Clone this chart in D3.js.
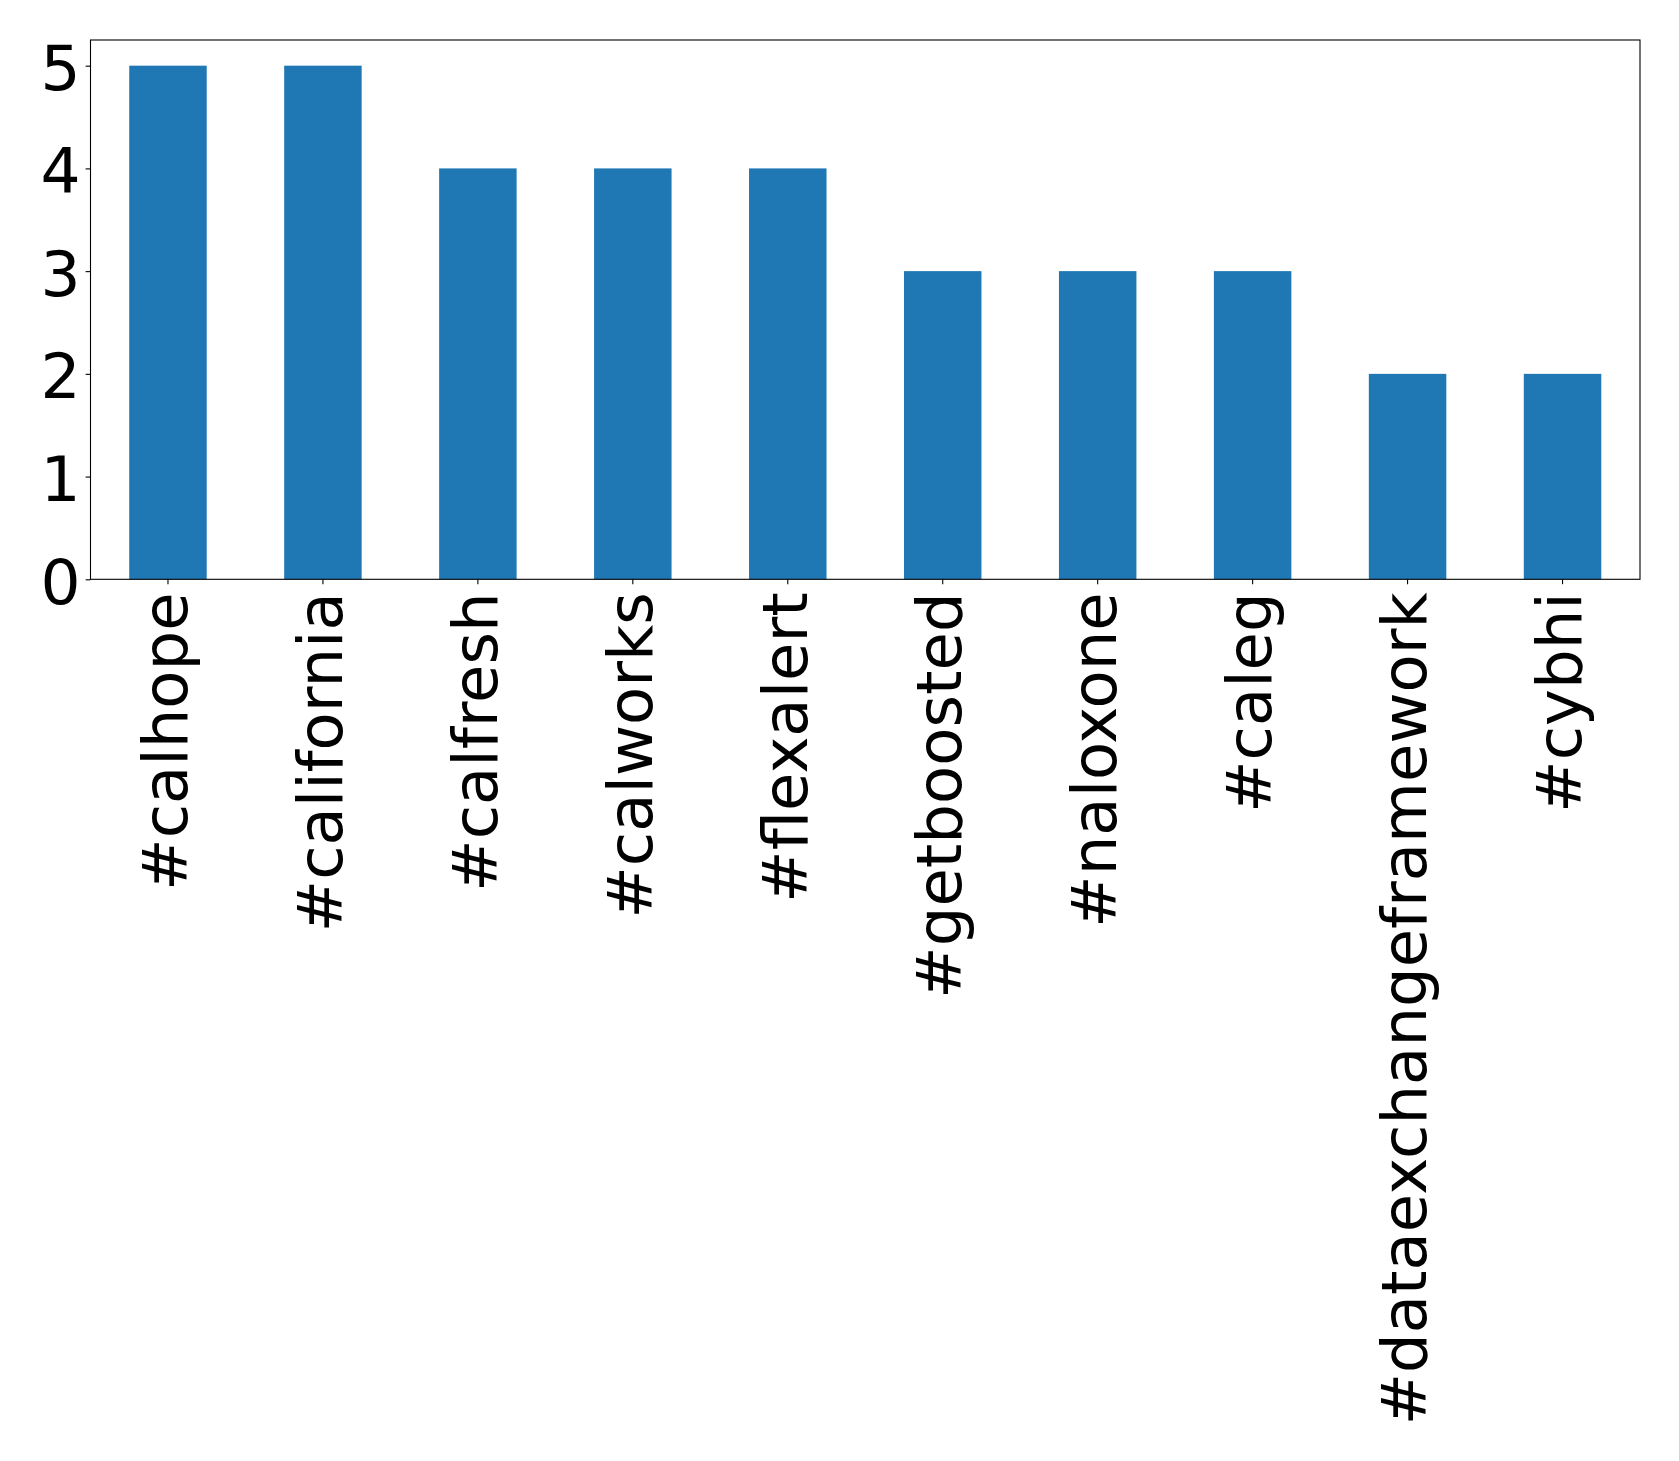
<!DOCTYPE html>
<html>
<head>
<meta charset="utf-8">
<script src="https://cdn.jsdelivr.net/npm/d3@7/dist/d3.min.js"></script>
<style>
  html, body { margin: 0; padding: 0; background: #fff; }
  svg { display: block; }
</style>
</head>
<body>
<script>
const categories = ["#calhope", "#california", "#calfresh", "#calworks", "#flexalert",
                    "#getboosted", "#naloxone", "#caleg", "#dataexchangeframework", "#cybhi"];
const values = [5, 5, 4, 4, 4, 3, 3, 3, 2, 2];
const yTicks = [0, 1, 2, 3, 4, 5];

const W = 1679, H = 1461;
const mLeft = 90.5, mRight = 1640, mTop = 40, mBottom = 579.3;
const fontSize = 62.5;

const svg = d3.select("body").append("svg")
  .attr("width", W).attr("height", H);

const x = d3.scaleBand()
  .domain(categories)
  .range([mLeft, mRight])
  .paddingInner(0.5)
  .paddingOuter(0.25);

const y = d3.scaleLinear()
  .domain([0, 5.25])
  .range([mBottom, mTop]);

// bars
svg.append("g").selectAll("rect")
  .data(categories)
  .join("rect")
  .attr("x", d => x(d))
  .attr("width", x.bandwidth())
  .attr("y", (d, i) => y(values[i]))
  .attr("height", (d, i) => y(0) - y(values[i]))
  .attr("fill", "#1f77b4");

// y axis
const yAxis = svg.append("g")
  .attr("transform", `translate(${mLeft},0)`)
  .call(d3.axisLeft(y).tickValues(yTicks).tickFormat(d3.format("d")).tickSize(4.9).tickPadding(5));
yAxis.select(".domain").remove();
yAxis.selectAll(".tick line").attr("stroke", "#000").attr("stroke-width", 1.1);
yAxis.selectAll(".tick text")
  .attr("font-family", "DejaVu Sans")
  .attr("font-size", 63)
  .attr("fill", "#000")
  .attr("dy", "0.38em");

// x axis
const xAxis = svg.append("g")
  .attr("transform", `translate(0,${mBottom})`)
  .call(d3.axisBottom(x).tickSize(4.9).tickPadding(0));
xAxis.select(".domain").remove();
xAxis.selectAll(".tick line").attr("stroke", "#000").attr("stroke-width", 1.1);
xAxis.selectAll(".tick text")
  .attr("font-family", "DejaVu Sans")
  .attr("font-size", fontSize)
  .attr("fill", "#000")
  .attr("text-anchor", "end")
  .attr("x", 0)
  .attr("y", 0)
  .attr("dy", "0.30em")
  .attr("transform", "translate(0,13) rotate(-90)");

// frame
svg.append("rect")
  .attr("x", mLeft).attr("y", mTop)
  .attr("width", mRight - mLeft).attr("height", mBottom - mTop)
  .attr("fill", "none")
  .attr("stroke", "#000")
  .attr("stroke-width", 1.1);
</script>
</body>
</html>
